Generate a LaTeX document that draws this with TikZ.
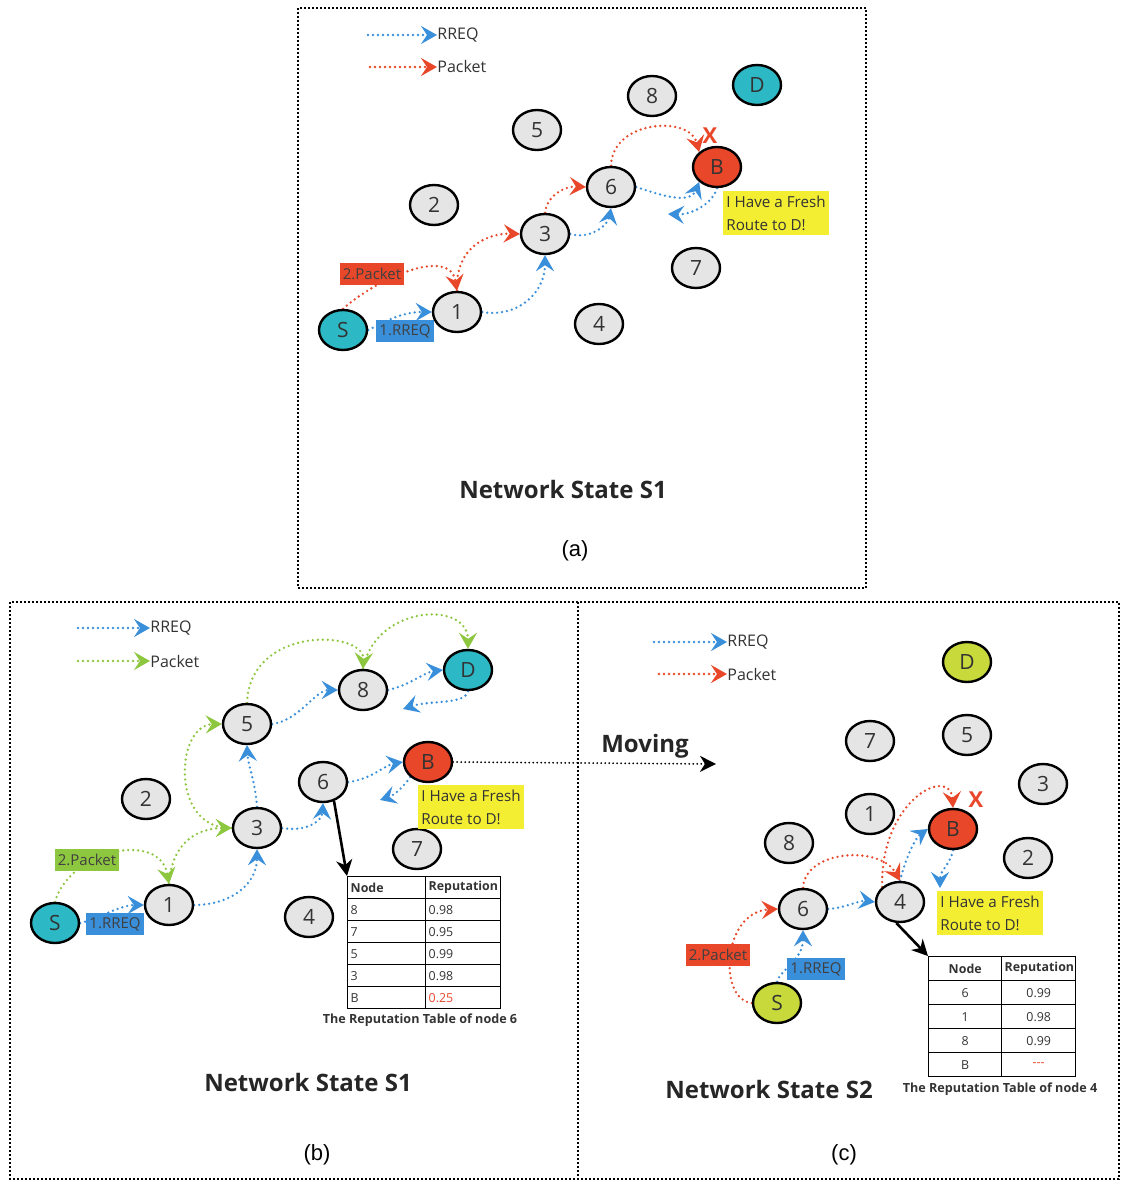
\documentclass[tikz,border=0pt]{standalone}
\usepackage{fontspec}
\setmainfont{Open Sans}
\newfontfamily\capfont{Liberation Sans}
\usetikzlibrary{shapes.geometric,arrows.meta,matrix,backgrounds}

\definecolor{ndgray}{HTML}{E5E5E5}
\definecolor{ndteal}{HTML}{2DB8C5}
\definecolor{ndlime}{HTML}{C8D93C}
\definecolor{ndred}{HTML}{E8472A}
\definecolor{rqblue}{HTML}{3A8FDB}
\definecolor{pkgreen}{HTML}{8DC63F}
\definecolor{noteyel}{HTML}{F4EE33}
\definecolor{txtgray}{HTML}{333333}

\tikzset{
  nd/.style={ellipse,draw=black,line width=1.2pt,fill=ndgray,minimum width=24pt,minimum height=20pt,inner sep=0pt,text=txtgray,font=\fontsize{10.5}{12}\selectfont},
  dotline/.style={line width=1.3pt,dash pattern=on 0pt off 2.5pt,line cap=round},
  tip/.style={-{Stealth[length=8pt,width=9pt,inset=3pt]}},
  rq/.style={dotline,tip,draw=rqblue},
  pk/.style={dotline,tip,draw=ndred},
  gk/.style={dotline,tip,draw=pkgreen},
  mv/.style={line width=1pt,dash pattern=on 0pt off 2pt,line cap=round,-{Stealth[length=8pt,width=8pt,inset=2.5pt]}},
  lgd/.style={anchor=west,inner sep=0pt,text=txtgray,font=\fontsize{8}{9}\selectfont},
  tag/.style={inner sep=1.5pt,minimum height=11pt,text=black!75,font=\fontsize{7.5}{9}\selectfont},
  note/.style={fill=noteyel,align=left,inner xsep=1.5pt,inner ysep=2.5pt,text=txtgray,font=\fontsize{7.6}{11.5}\selectfont},
  frame/.style={line width=1pt,dash pattern=on 1pt off 1pt},
  title/.style={font=\bfseries\fontsize{12}{14}\selectfont,text=black!85},
  panel/.style={font=\capfont\fontsize{11}{13}\selectfont},
  cross/.style={text=ndred,font=\bfseries\fontsize{11}{12}\selectfont},
  point/.style={line width=1.3pt,-{Stealth[length=8pt,width=8pt,inset=2.5pt]}},
  rtab/.style={matrix of nodes,anchor=north west,inner sep=0pt,outer sep=0pt,ampersand replacement=\&,row sep=-0.7pt,column sep=-0.7pt,
    nodes={draw,line width=0.7pt,inner sep=1.5pt,text=txtgray,font=\fontsize{6.2}{7}\selectfont,anchor=center},
    row 1/.style={nodes={font=\bfseries\fontsize{6.2}{7}\selectfont}}},
  tcap/.style={font=\bfseries\fontsize{6.3}{7}\selectfont,text=txtgray}
}

\begin{document}
\begin{tikzpicture}[x=0.5pt,y=-0.5pt]
\useasboundingbox (0,0) rectangle (1121,1182);
\draw[frame] (298,8) rectangle (866,588);
\draw[frame] (10,602) rectangle (1119,1179);
\draw[frame] (578,602) -- (578,1179);

\coordinate (alq) at (368,35);
\node[lgd] (alqt) at (437,35) {RREQ};
\coordinate (alp) at (370,67);
\node[lgd] (alpt) at (437,67) {Packet};
\node[tag,fill=ndred] (apk) at (372,274) {2.Packet};
\node[tag,fill=rqblue] (arq) at (405,331) {1.RREQ};
\node[nd,fill=ndteal] (aS) at (343,330) {S};
\node[nd] (a1) at (457,312) {1};
\node[nd] (a2) at (434,205) {2};
\node[nd] (a3) at (545,234) {3};
\node[nd] (a4) at (599,324) {4};
\node[nd] (a5) at (537,130) {5};
\node[nd] (a6) at (611,187) {6};
\node[nd] (a7) at (696,268) {7};
\node[nd] (a8) at (652,96) {8};
\node[nd,fill=ndred] (aB) at (717,167) {B};
\node[nd,fill=ndteal] (aD) at (757,85) {D};
\node[note] (anote) at (776,213) {I Have a Fresh\\Route to D!};
\node[cross] (ax) at (710,136) {X};
\node[title] (ast) at (563,489) {Network State S1};
\node[panel] (acap) at (575,551) {(a)};

\coordinate (blq) at (78,628);
\node[lgd] (blqt) at (150,628) {RREQ};
\coordinate (blp) at (78,661);
\node[lgd] (blpt) at (150,661) {Packet};
\node[tag,fill=pkgreen] (bpk) at (87,860) {2.Packet};
\node[tag,fill=rqblue] (brq) at (115,924) {1.RREQ};
\node[nd,fill=ndteal] (bS) at (55,923) {S};
\node[nd] (b1) at (169,905) {1};
\node[nd] (b2) at (146,799) {2};
\node[nd] (b3) at (257,828) {3};
\node[nd] (b4) at (309,917) {4};
\node[nd] (b5) at (247,724) {5};
\node[nd] (b6) at (323,782) {6};
\node[nd] (b7) at (417,849) {7};
\node[nd] (b8) at (363,690) {8};
\node[nd,fill=ndred] (bB) at (428,762) {B};
\node[nd,fill=ndteal] (bD) at (468,670) {D};
\node[note] (bnote) at (471,807) {I Have a Fresh\\Route to D!};
\matrix (tb6) [rtab,nodes={minimum height=11pt},
  column 1/.style={nodes={text width=36pt,align=left}},
  column 2/.style={nodes={text width=34.5pt,align=left}}] at (347,876) {
  Node \& Reputation \\
  8 \& 0.98 \\
  7 \& 0.95 \\
  5 \& 0.99 \\
  3 \& 0.98 \\
  B \& |[text=ndred]| 0.25 \\
};
\node[tcap] (tb6cap) at (420,1020) {The Reputation Table of node 6};
\node[title] (bst) at (308,1082) {Network State S1};
\node[panel] (bcap) at (317,1155) {(b)};
\node[title] (mvt) at (645,746) {Moving};
\coordinate (mvend) at (716,764);

\coordinate (clq) at (654,642);
\node[lgd] (clqt) at (727,642) {RREQ};
\coordinate (clp) at (659,674);
\node[lgd] (clpt) at (727,674) {Packet};
\node[tag,fill=ndred] (cpk) at (718,955) {2.Packet};
\node[tag,fill=rqblue] (crq) at (816,969) {1.RREQ};
\node[nd,fill=ndlime] (cS) at (777,1003) {S};
\node[nd] (c1) at (870,814) {1};
\node[nd] (c2) at (1028,858) {2};
\node[nd] (c3) at (1043,784) {3};
\node[nd] (c4) at (900,902) {4};
\node[nd] (c5) at (967,735) {5};
\node[nd] (c6) at (803,909) {6};
\node[nd] (c7) at (870,741) {7};
\node[nd] (c8) at (789,843) {8};
\node[nd,fill=ndred] (cB) at (953,829) {B};
\node[nd,fill=ndlime] (cD) at (967,662) {D};
\node[note] (cnote) at (990,913) {I Have a Fresh\\Route to D!};
\node[cross] (cx) at (976,800) {X};
\matrix (tb4) [rtab,nodes={minimum height=12pt},
  column 1/.style={nodes={text width=33.5pt,align=center}},
  column 2/.style={nodes={text width=34pt,align=center}}] at (928,956) {
  Node \& Reputation \\
  6 \& 0.99 \\
  1 \& 0.98 \\
  8 \& 0.99 \\
  B \& |[text=ndred]| -{}-{}- \\
};
\node[tcap] (tb4cap) at (1000,1089) {The Reputation Table of node 4};
\node[title] (cst) at (769,1089) {Network State S2};
\node[panel] (ccap) at (844,1155) {(c)};

\begin{scope}[on background layer]
\draw[rq] (alq) -- (alqt.west);
\draw[pk] (alp) -- (alpt.west);
\draw[rq] (aS.east) .. controls (385,322) and (400,312) .. (a1.west);
\draw[rq] (a1.east) .. controls (515,318) and (545,295) .. (a3.south);
\draw[rq] (a3.east) .. controls (590,240) and (608,225) .. (a6.south);
\draw[rq] (a6.east) .. controls (660,195) and (690,205) .. (aB.south west);
\coordinate (aback) at (668,214);
\draw[rq] (aB.south) .. controls (712,205) and (690,215) .. (aback);
\draw[pk] (aS.north) .. controls (375,280) and (450,245) .. (a1.north);
\draw[pk] (a1.north) .. controls (455,245) and (490,233) .. (a3.west);
\draw[pk] (a3.north) .. controls (547,195) and (565,186) .. (a6.west);
\draw[pk] (a6.north) .. controls (612,120) and (690,115) .. (aB.north west);

\draw[rq] (blq) -- (blqt.west);
\draw[gk] (blp) -- (blpt.west);
\draw[rq] (bS.east) .. controls (95,920) and (120,905) .. (b1.west);
\draw[rq] (b1.east) .. controls (230,905) and (257,885) .. (b3.south);
\draw[rq] (b3.north) .. controls (255,780) and (248,765) .. (b5.south);
\draw[rq] (b3.east) .. controls (305,832) and (322,822) .. (b6.south);
\draw[rq] (b5.east) .. controls (300,720) and (315,690) .. (b8.west);
\draw[rq] (b8.east) .. controls (410,685) and (425,672) .. (bD.west);
\coordinate (bDback) at (403,709);
\draw[rq] (bD.south) .. controls (465,705) and (430,700) .. (bDback);
\draw[rq] (b6.east) .. controls (370,780) and (385,765) .. (bB.west);
\coordinate (bBback) at (380,800);
\draw[rq] (bB.south west) .. controls (405,785) and (395,795) .. (bBback);
\draw[gk] (bS.north) .. controls (70,850) and (160,830) .. (b1.north);
\draw[gk] (b1.north) .. controls (172,840) and (200,828) .. (b3.west);
\draw[gk] (b3.west) .. controls (170,830) and (175,725) .. (b5.west);
\draw[gk] (b5.north) .. controls (250,625) and (365,630) .. (b8.north);
\draw[gk] (b8.north) .. controls (375,605) and (468,600) .. (bD.north);
\draw[point] (b6.300) -- (tb6.north west);
\draw[mv] (bB.east) -- (mvend);

\draw[rq] (clq) -- (clqt.west);
\draw[pk] (clp) -- (clpt.west);
\draw[rq] (cS.north) .. controls (780,970) and (803,960) .. (c6.south);
\draw[rq] (c6.east) .. controls (845,908) and (860,900) .. (c4.west);
\draw[rq] (c4.north) .. controls (905,860) and (915,838) .. (cB.west);
\coordinate (cBback) at (940,888);
\draw[rq] (cB.south) .. controls (950,865) and (940,870) .. (cBback);
\draw[pk] (cS.west) .. controls (718,1000) and (722,912) .. (c6.west);
\draw[pk] (c6.north) .. controls (805,850) and (880,845) .. (c4.north);
\draw[pk] (c4.north west) .. controls (880,800) and (950,765) .. (cB.north);
\draw[point] (c4.260) -- (tb4.north west);
\end{scope}
\end{tikzpicture}
\end{document}
